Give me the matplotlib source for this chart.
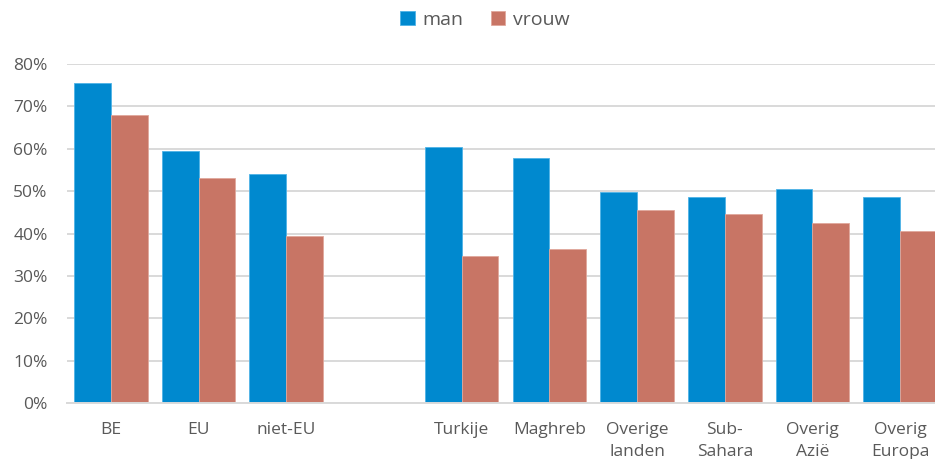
import numpy as np
import matplotlib.pyplot as plt
from matplotlib.ticker import PercentFormatter

plt.rcParams['font.family'] = ['Open Sans', 'DejaVu Sans']

# data (share per group); "" is the empty spacer slot
categories = ["BE", "EU", "niet-EU", "", "Turkije", "Maghreb",
              "Overige\nlanden", "Sub-\nSahara", "Overig\nAzië", "Overig\nEuropa"]
man = [0.755, 0.595, 0.541, np.nan, 0.603, 0.579, 0.499, 0.486, 0.504, 0.487]
vrouw = [0.679, 0.530, 0.395, np.nan, 0.347, 0.363, 0.455, 0.445, 0.425, 0.406]

BLUE = "#0089CF"
RED = "#C87565"
TXT = "#595959"
GRID = "#D9D9D9"

W_PX, H_PX = 935, 459
fig = plt.figure(figsize=(W_PX / 100, H_PX / 100), dpi=100)
ax = fig.add_axes([67 / W_PX, 1 - 403 / H_PX, (944 - 67) / W_PX, (403 - 64) / H_PX])

x = np.arange(len(categories))
bw = 0.42
ax.bar(x - bw / 2, man, width=bw, color=BLUE, edgecolor="#4FB3E6", lw=0.6, label="man", zorder=3)
ax.bar(x + bw / 2, vrouw, width=bw, color=RED, edgecolor="#E0A89C", lw=0.6, label="vrouw", zorder=3)

ax.set_xlim(-0.5, len(categories) - 0.5)
ax.set_ylim(0, 0.8)
ax.set_yticks(np.arange(0, 0.81, 0.1))
ax.yaxis.set_major_formatter(PercentFormatter(1.0, decimals=0))
ax.set_xticks(x)
ax.set_xticklabels(categories, linespacing=1.5)

ax.grid(axis="y", color=GRID, lw=1.4, zorder=0)
for s in ("top", "right", "left"):
    ax.spines[s].set_visible(False)
ax.spines["bottom"].set_color(GRID)
ax.spines["bottom"].set_linewidth(1.4)
ax.spines["bottom"].set_zorder(4)
ax.tick_params(axis="both", length=0, labelcolor=TXT, labelsize=12.5)
ax.tick_params(axis="y", pad=14)
ax.tick_params(axis="x", pad=14)

fig.legend(loc="center", bbox_to_anchor=(485 / W_PX, 1 - 20 / H_PX), ncol=2,
           frameon=False, fontsize=14, labelcolor=TXT, handlelength=0.75,
           handleheight=0.75, handletextpad=0.4, columnspacing=1.4)

fig.savefig("out.png", dpi=100)
